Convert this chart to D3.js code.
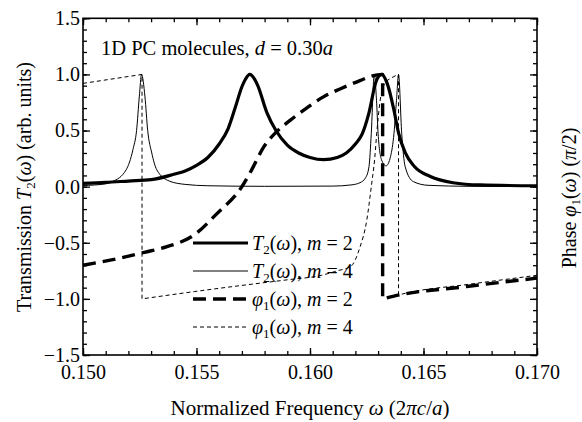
<!DOCTYPE html>
<html><head><meta charset="utf-8">
<script src="https://cdn.jsdelivr.net/npm/d3@7"></script>
<style>
body{margin:0;background:#fff;}
text{font-family:"Liberation Serif","Tinos","Nimbus Roman","Times New Roman","Times","DejaVu Serif",serif;fill:#000;}
</style></head>
<body><svg id="c" width="582" height="422"></svg>
<script>
// ---- data ----
const xTicks = [0.150, 0.155, 0.160, 0.165, 0.170];
const yTicks = [-1.5, -1.0, -0.5, 0.0, 0.5, 1.0, 1.5];

const t2m2 = [[0.1500,0.030],[0.1510,0.038],[0.1520,0.050],[0.1530,0.062],[0.1540,0.110],[0.1545,0.140],[0.1550,0.190],[0.1555,0.260],[0.1560,0.380],[0.1564,0.520],[0.1567,0.700],[0.1570,0.890],[0.15715,0.955],[0.15735,1.000],[0.15755,0.960],[0.1577,0.900],[0.1581,0.660],[0.1585,0.500],[0.1590,0.370],[0.1595,0.300],[0.1600,0.260],[0.1606,0.240],[0.1612,0.260],[0.1616,0.300],[0.1620,0.380],[0.1623,0.470],[0.1626,0.660],[0.1629,0.930],[0.16315,1.000],[0.1634,0.920],[0.1637,0.680],[0.1639,0.480],[0.1642,0.300],[0.1646,0.180],[0.1653,0.090],[0.1663,0.035],[0.1675,0.015],[0.1700,0.008]];

const t2m4 = [[0.1500,0.010],[0.1510,0.025],[0.1513,0.045],[0.1519,0.150],[0.1522,0.330],[0.15236,0.500],[0.15248,0.800],[0.15258,1.000],[0.15273,0.800],[0.15285,0.500],[0.15303,0.300],[0.15325,0.150],[0.1538,0.050],[0.1545,0.020],[0.1555,0.008],[0.1580,0.003],[0.1610,0.005],[0.1618,0.015],[0.1622,0.035],[0.16245,0.080],[0.1626,0.180],[0.1627,0.475],[0.16283,1.000],[0.16293,0.770],[0.1630,0.475],[0.16315,0.240],[0.16335,0.185],[0.16355,0.270],[0.1637,0.475],[0.16381,0.770],[0.1639,1.000],[0.16404,0.475],[0.16419,0.180],[0.16455,0.045],[0.1652,0.012],[0.1670,0.003],[0.1700,0.001]];

const phim2 = [[0.1500,-0.700],[0.1512,-0.655],[0.1527,-0.585],[0.1537,-0.535],[0.1549,-0.430],[0.1559,-0.240],[0.1570,0.000],[0.15743,0.150],[0.15795,0.350],[0.15853,0.490],[0.15912,0.590],[0.15985,0.700],[0.16059,0.800],[0.16132,0.870],[0.1622,0.945],[0.1628,0.990],[0.1632,1.000],[0.1632,-1.000],[0.1637,-0.975],[0.1669,-0.890],[0.1700,-0.815]];

const phim4 = [[0.1500,0.920],[0.1526,1.000],[0.1526,-1.000],[0.1549,-0.935],[0.1570,-0.880],[0.1590,-0.830],[0.1605,-0.790],[0.1612,-0.750],[0.1618,-0.710],[0.1622,-0.540],[0.1625,-0.300],[0.1627,0.000],[0.16285,0.250],[0.16295,0.500],[0.1631,0.780],[0.1633,0.920],[0.1636,0.970],[0.1639,1.000],[0.1639,-0.965],[0.1642,-0.950],[0.1670,-0.870],[0.1700,-0.790]];

const legendItems = [
  {sym:"T", sub:"2", name:"m = 2", data:t2m2, w:3.2, dash:null},
  {sym:"T", sub:"2", name:"m = 4", data:t2m4, w:1, dash:null},
  {sym:"φ", sub:"1", name:"m = 2", data:phim2, w:3.4, dash:"13,7"},
  {sym:"φ", sub:"1", name:"m = 4", data:phim4, w:1, dash:"4,3"}
];

// ---- layout ----
const L=83, R=537, T=18.3, B=355;
const svg = d3.select("#c");
const x = d3.scaleLinear().domain([0.150,0.170]).range([L,R]);
const y = d3.scaleLinear().domain([-1.5,1.5]).range([B,T]);

const minorX = d3.range(150,171).map(d=>d/1000);
const minorY = d3.range(-15,16).map(d=>d/10);

function styleAxis(g){ g.attr("font-family",null); g.select(".domain").remove(); g.selectAll("line").attr("stroke","#000").attr("stroke-width",1.3); }

svg.append("g").attr("transform",`translate(0,${B})`).call(d3.axisBottom(x).tickValues(minorX).tickSize(-4).tickFormat("")).call(styleAxis);
svg.append("g").attr("transform",`translate(0,${B})`).call(d3.axisBottom(x).tickValues(xTicks).tickSize(-7).tickPadding(10).tickFormat(d3.format(".3f"))).call(styleAxis)
  .selectAll("text").attr("font-size",20);
svg.append("g").attr("transform",`translate(0,${T})`).call(d3.axisTop(x).tickValues(minorX).tickSize(-4).tickFormat("")).call(styleAxis);
svg.append("g").attr("transform",`translate(0,${T})`).call(d3.axisTop(x).tickValues(xTicks).tickSize(-7).tickFormat("")).call(styleAxis);
svg.append("g").attr("transform",`translate(${L},0)`).call(d3.axisLeft(y).tickValues(minorY).tickSize(-4).tickFormat("")).call(styleAxis);
svg.append("g").attr("transform",`translate(${L},0)`).call(d3.axisLeft(y).tickValues(yTicks).tickSize(-7).tickFormat(d3.format(".1f"))).call(styleAxis)
  .selectAll("text").attr("font-size",20).attr("x",-3);
svg.append("g").attr("transform",`translate(${R},0)`).call(d3.axisRight(y).tickValues(minorY).tickSize(-4).tickFormat("")).call(styleAxis);
svg.append("g").attr("transform",`translate(${R},0)`).call(d3.axisRight(y).tickValues(yTicks).tickSize(-7).tickFormat("")).call(styleAxis);

svg.append("rect").attr("x",L).attr("y",T).attr("width",R-L).attr("height",B-T)
  .attr("fill","none").attr("stroke","#000").attr("stroke-width",1.6);

// curves: smooth (monotone) pieces joined by vertical jumps in one path
const seg = d3.line().x(d=>x(d[0])).y(d=>y(d[1])).curve(d3.curveMonotoneX);
function pathOf(data){
  const pieces=[]; let cur=[data[0]];
  for(let i=1;i<data.length;i++){
    if(data[i][0]===data[i-1][0]){ pieces.push(cur); cur=[data[i]]; }
    else cur.push(data[i]);
  }
  pieces.push(cur);
  return pieces.map((p,i)=>{
    const d = p.length>1 ? seg(p) : `M${x(p[0][0])},${y(p[0][1])}`;
    return i===0 ? d : "L"+d.slice(1);
  }).join("");
}
const plot = svg.append("g");
legendItems.forEach(s=>{
  plot.append("path").attr("d",pathOf(s.data)).attr("fill","none")
    .attr("stroke","#000").attr("stroke-width",s.w).attr("stroke-linejoin","round")
    .attr("stroke-dasharray",s.dash);
});

const tt = svg.append("text").attr("x",101).attr("y",55).attr("font-size",20.5);
tt.append("tspan").text("1D PC molecules, ");
tt.append("tspan").attr("font-style","italic").text("d");
tt.append("tspan").text(" = 0.30");
tt.append("tspan").attr("font-style","italic").text("a");

const rowsY = [243, 271, 299, 327];
legendItems.forEach((s,i)=>{
  const yy = rowsY[i];
  svg.append("line").attr("x1",193).attr("x2",248).attr("y1",yy).attr("y2",yy)
    .attr("stroke","#000").attr("stroke-width",s.w).attr("stroke-dasharray",s.dash);
  const t = svg.append("text").attr("x",252).attr("y",yy+7).attr("font-size",20);
  t.append("tspan").attr("font-style","italic").text(s.sym);
  t.append("tspan").attr("font-size",13).attr("dy",4).text(s.sub);
  t.append("tspan").attr("dy",-4).text("(");
  t.append("tspan").attr("font-style","italic").text("ω");
  t.append("tspan").text("), ");
  t.append("tspan").attr("font-style","italic").text("m");
  t.append("tspan").text(s.name.slice(1));
});

const xt = svg.append("text").attr("x",310).attr("y",415).attr("text-anchor","middle").attr("font-size",21);
xt.append("tspan").text("Normalized Frequency ");
xt.append("tspan").attr("font-style","italic").text("ω");
xt.append("tspan").text(" (2");
xt.append("tspan").attr("font-style","italic").text("πc");
xt.append("tspan").text("/");
xt.append("tspan").attr("font-style","italic").text("a");
xt.append("tspan").text(")");

const yt = svg.append("text").attr("transform","translate(31,187) rotate(-90)").attr("text-anchor","middle").attr("font-size",20);
yt.append("tspan").text("Transmission ");
yt.append("tspan").attr("font-style","italic").text("T");
yt.append("tspan").attr("font-size",13).attr("dy",4).text("2");
yt.append("tspan").attr("dy",-4).text("(");
yt.append("tspan").attr("font-style","italic").text("ω");
yt.append("tspan").text(") (arb. units)");

const rt = svg.append("text").attr("transform","translate(576,198) rotate(-90)").attr("text-anchor","middle").attr("font-size",20);
rt.append("tspan").text("Phase ");
rt.append("tspan").attr("font-style","italic").text("φ");
rt.append("tspan").attr("font-size",13).attr("dy",4).text("1");
rt.append("tspan").attr("dy",-4).text("(");
rt.append("tspan").attr("font-style","italic").text("ω");
rt.append("tspan").text(") (");
rt.append("tspan").attr("font-style","italic").text("π");
rt.append("tspan").text("/2)");
</script></body></html>
